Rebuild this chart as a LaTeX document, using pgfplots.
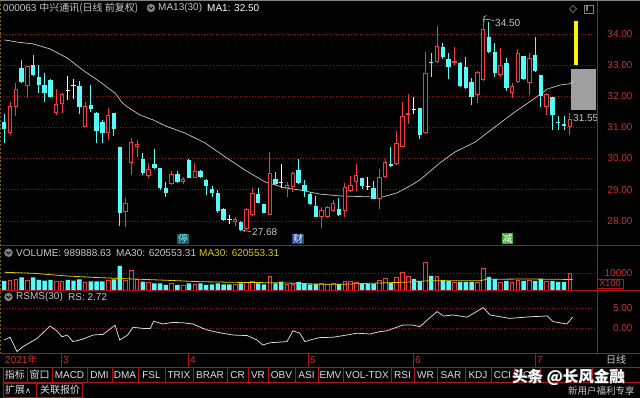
\documentclass[border=0pt]{standalone}
\usepackage{pgfplots}
\pgfplotsset{compat=1.18}
\usepackage{pgfplotstable}
\usetikzlibrary{arrows.meta}
\usepackage{fontspec}
\setmainfont{Liberation Sans}
\newfontfamily\cjk{Noto Sans CJK SC}
\newfontfamily\sym{DejaVu Sans}
\definecolor{upred}{RGB}{240,60,60}
\definecolor{dncyan}{RGB}{84,252,252}
\definecolor{gridred}{RGB}{165,20,20}
\definecolor{linered}{RGB}{175,20,20}
\definecolor{labred}{RGB}{205,45,45}
\definecolor{txtgray}{RGB}{200,200,200}
\definecolor{volyel}{RGB}{225,200,0}
\definecolor{olivel}{RGB}{120,100,20}
\definecolor{boxgray}{RGB}{160,160,160}
\definecolor{tingbg}{RGB}{20,95,105}
\definecolor{tingtx}{RGB}{150,240,240}
\definecolor{caibg}{RGB}{40,70,150}
\definecolor{jianbg}{RGB}{70,170,60}
\definecolor{btntx}{RGB}{225,225,225}

\pgfplotstableread{
x o h l c v
2 30.82 31.82 30.76 31.69 5882
3 31.66 32.43 31.37 32.23 6294
5 32.33 32.97 31.94 32.97 5882
10 31.46 32.23 31.40 31.75 4882
11 31.75 32.10 31.46 32.07 4882
15 31.01 31.82 31.01 31.69 4294
19 30.82 31.62 30.60 31.40 5470
22 28.29 28.73 27.80 28.57 5470
23 29.86 30.66 29.47 30.53 11764
24 30.37 30.60 30.05 30.47 6294
26 29.44 29.86 29.38 29.67 4294
30 29.18 29.60 29.15 29.50 3941
32 29.25 29.41 29.18 29.34 2941
34 29.38 29.86 29.38 29.60 3353
41 27.96 28.12 27.84 28.06 3353
43 27.74 28.41 27.71 28.38 4294
44 28.19 29.06 28.16 28.90 4882
47 28.19 30.21 28.19 29.54 7823
50 29.06 29.25 28.77 29.15 3353
51 29.09 29.57 28.93 29.54 3353
56 28.12 28.45 27.77 28.35 4117
57 28.12 28.48 28.09 28.45 3529
58 28.32 28.67 28.29 28.57 4117
60 28.32 29.22 28.12 29.09 5294
61 28.96 29.44 28.93 29.15 5294
62 29.25 29.83 28.96 29.47 4706
66 28.70 29.67 28.38 29.41 5882
67 29.41 29.99 29.38 29.89 7058
69 29.83 30.89 29.79 30.50 7647
70 30.37 31.82 30.37 31.37 10588
71 31.40 32.07 31.11 31.46 8235
74 30.82 33.42 30.79 32.75 16470
76 33.10 34.26 33.07 33.61 8235
79 33.07 33.58 33.00 33.13 4706
83 32.04 32.81 31.78 32.78 4706
84 32.52 34.50 32.49 34.16 12941
87 32.68 33.55 32.62 33.00 4706
89 32.10 32.43 31.94 32.33 4706
90 32.46 33.52 32.43 33.39 5882
92 32.43 33.39 32.04 33.23 5882
95 31.66 32.10 31.40 32.07 5294
99 31.01 31.46 30.76 31.27 9899
}\up

\pgfplotstableread{
x o h l c v
1 31.17 31.43 30.50 30.95 5294
4 32.91 33.16 32.43 32.46 7470
6 33.00 33.32 32.65 32.68 7470
7 32.62 33.00 32.10 32.36 5882
8 32.36 32.75 31.82 32.10 5470
9 32.52 32.55 31.94 31.98 5882
14 32.33 32.49 31.43 31.66 6294
16 31.72 32.36 31.50 31.59 5117
17 31.46 31.50 30.50 30.89 5117
18 31.17 31.24 30.50 30.82 5117
20 31.46 31.46 30.72 30.95 6294
21 30.37 30.37 27.84 28.25 14117
25 29.99 30.18 29.47 29.54 4882
27 29.83 30.31 29.67 29.70 3941
28 29.70 29.70 28.99 29.06 3941
29 29.06 29.25 28.77 28.90 2941
31 29.50 29.60 29.22 29.25 2941
33 29.95 29.99 29.38 29.38 3941
35 29.60 29.63 29.38 29.41 3941
36 29.31 29.34 28.83 29.12 2941
37 29.02 29.12 28.77 28.90 3353
38 28.90 28.99 28.25 28.32 3941
39 28.38 28.41 28.00 28.03 3353
42 27.96 28.00 27.68 27.71 3941
45 28.86 29.06 28.57 28.57 3941
46 28.54 28.54 28.25 28.25 3353
48 29.34 29.57 29.15 29.18 3941
52 29.63 29.99 29.18 29.22 4706
53 29.15 29.31 28.77 28.96 3529
54 28.86 28.93 28.51 28.54 3353
55 28.48 28.80 28.12 28.12 3529
59 28.38 28.73 28.16 28.19 3529
63 29.38 29.38 29.02 29.12 3529
65 29.06 29.28 28.70 28.70 3529
68 29.83 30.37 29.73 29.76 4117
73 31.62 31.62 30.63 30.76 5294
75 33.10 33.39 32.62 33.07 8235
77 33.58 33.71 33.20 33.26 5882
78 33.20 33.39 32.55 32.94 5294
80 33.07 33.10 32.30 32.33 4706
81 32.94 33.26 32.23 32.27 4706
82 32.46 32.59 31.72 31.98 4706
85 33.90 34.38 33.39 33.42 7647
86 33.42 33.71 32.62 32.75 6470
88 33.07 33.23 32.17 32.27 5294
91 33.29 33.29 32.52 32.55 5294
93 33.32 33.90 32.78 32.81 5294
94 32.68 32.68 31.66 32.01 6470
96 31.98 31.98 30.92 31.40 5294
97 31.17 31.37 30.92 31.14 4706
98 31.11 31.37 30.92 31.05 4706
}\down

\pgfplotstableread{
x o h l c v
12 32.20 32.65 31.88 32.20 5882
13 32.36 32.55 31.91 32.36 5470
40 28.03 28.19 27.90 28.03 3353
49 29.22 29.83 29.06 29.22 4882
64 29.09 29.41 28.99 29.09 3529
72 31.56 31.98 31.43 31.56 6470
}\doji

\pgfplotstableread{
n ma
1 33.81
3.2 33.74
6 33.68
8.9 33.52
11.9 33.23
14.6 32.84
17.6 32.46
20.2 32.10
21.4 31.80
22.3 31.66
24.5 31.40
26.8 31.24
28.9 31.05
32.3 30.82
35.8 30.50
39.3 30.05
42.7 29.63
46.2 29.25
49.6 29.06
52.2 28.99
55.7 28.86
59.2 28.80
64.4 28.77
66.6 28.77
69.1 28.90
71.3 29.12
73 29.31
76.5 29.86
79.1 30.21
82.6 30.53
86 31.01
89.5 31.50
93 31.94
95.1 32.23
97.3 32.36
99 32.40
99.8 32.50
}\matab

\pgfplotstableread{
n v
1 10411
6 9823
11.9 8235
17.6 7235
23.3 6470
29.2 5706
34.9 4882
40.6 4529
46.5 4294
52.2 3941
55.7 3353
59.2 3353
64.4 3941
70.1 4529
73 5117
74.8 5470
83.4 5470
84.7 6294
91.6 6470
99.5 6205
}\volma

\pgfplotstableread{
n v
1 -3.0
2 -2.3
3.2 -5.9
4.2 -4.7
5.5 -3.6
6.7 -2.6
7.7 -1.2
8.9 0.5
10.1 -0.7
11 -2.2
11.9 -1.75
12.9 -3.4
14.6 -2.8
16.4 -1.75
18.1 -1.6
19.3 -0.3
20.2 0.7
21 -3.0
22.4 -1.75
23.3 0.2
25 -0.1
26.3 -0.1
26.9 1.7
28.5 1.0
30.2 1.4
32 1.3
33.7 1.0
35.4 -0.1
36.7 -0.7
38.4 -1.2
40.6 -1.75
43.1 -1.9
44.8 -3.0
45.8 -4.25
47 -3.7
50 -3.4
51 -0.7
52.2 -1.3
53.1 -3.4
54.5 -2.8
55.7 -2.4
58 -2.3
60.4 -1.75
62.1 -1.3
64.4 -1.5
66.1 -0.9
67.3 -0.7
70.1 0.75
71.8 0.75
73 0.3
74.3 2.0
76 4.1
77.1 3.0
78.8 3.25
81.2 2.7
84 5.1
85.2 3.25
88.6 2.4
92.1 2.8
95.1 3.0
96.1 1.6
97.3 1.3
98.5 1.0
99.5 2.72
}\rstab

\pgfplotsset{
  panel/.style={scale only axis, width=597pt, xmin=0.255, xmax=103.72,
    axis line style={draw=none}, xtick=\empty, tick style={draw=none},
    scaled y ticks=false,
    ytick pos=right, yticklabel pos=right,
    yticklabel style={anchor=east, xshift=39pt, text=labred, font=\fontsize{10}{12}\selectfont},
    ymajorgrids, major grid style={gridred, line width=0.6pt, dash pattern=on 1pt off 2pt}},
  wick/.style={draw=none, mark=none, forget plot, error bars/.cd, y dir=plus, y explicit, error mark=none,
    error bar style={draw=#1, line width=1pt}},
  body/.style={draw=none, mark=none, forget plot, error bars/.cd, y dir=plus, y explicit, error mark=none,
    error bar style={draw=#1, line width=4.4pt}},
  inner/.style={draw=none, mark=none, forget plot, error bars/.cd, y dir=plus, y explicit, error mark=none,
    error bar style={draw=black, line width=2.4pt}},
}

\begin{document}
\begin{tikzpicture}[font=\fontsize{10}{12}\selectfont]
\useasboundingbox (0pt,0pt) rectangle (640pt,398pt);
\fill[black] (0pt,0pt) rectangle (640pt,398pt);

% ---------- main price panel ----------
\begin{axis}[panel, at={(0pt,153pt)}, anchor=south west, height=245pt,
  ymin=27.225, ymax=35.09, ytick={28,29,30,31,32,33,34},
  yticklabels={28.00,29.00,30.00,31.00,32.00,33.00,34.00}]
\addplot[txtgray, line width=0.7pt, forget plot] table[x=n, y=ma] {\matab};
% up candles (hollow red)
\addplot[wick=upred] table[x=x, y=l, y error expr={\thisrow{h}-\thisrow{l}}] {\up};
\addplot[body=upred] table[x=x, y=o, y error expr={\thisrow{c}-\thisrow{o}}] {\up};
\addplot[inner] table[x=x, y expr={\thisrow{o}+0.032}, y error expr={max(\thisrow{c}-\thisrow{o}-0.064,0)}] {\up};
% down candles (filled cyan)
\addplot[wick=dncyan] table[x=x, y=l, y error expr={\thisrow{h}-\thisrow{l}}] {\down};
\addplot[body=dncyan] table[x=x, y=c, y error expr={\thisrow{o}-\thisrow{c}}] {\down};
% doji
\addplot[wick=white] table[x=x, y=l, y error expr={\thisrow{h}-\thisrow{l}}] {\doji};
\addplot[body=white] table[x=x, y expr={\thisrow{o}-0.016}, y error expr={0.032}] {\doji};
% yellow bar and grey box at the right
\addplot[fill=boxgray, draw=none, forget plot] coordinates {(99.21,31.56) (103.55,31.56) (103.55,32.875) (99.21,32.875)} -- cycle;
\addplot[fill=yellow, draw=none, forget plot] coordinates {(99.73,33.0) (100.42,33.0) (100.42,34.42) (99.73,34.42)} -- cycle;
\addplot[txtgray, line width=0.6pt, forget plot] coordinates {(99.0,32.40) (99.8,32.50)};
\end{axis}

% ---------- volume panel ----------
\begin{axis}[panel, at={(0pt,108pt)}, anchor=south west, height=45pt,
  ymin=0, ymax=26470, ytick={10000}, yticklabels={10000}]
\addplot[ybar, bar width=3.6pt, bar shift=0pt, draw=upred, fill=black, line width=0.8pt] table[x=x, y=v] {\up};
\addplot[ybar, bar width=4.4pt, bar shift=0pt, draw=none, fill=dncyan] table[x=x, y=v] {\down};
\addplot[ybar, bar width=4.4pt, bar shift=0pt, draw=none, fill=dncyan] table[x=x, y=v] {\doji};
\addplot[volyel, line width=0.8pt] table[x=n, y=v] {\volma};
\end{axis}

% ---------- RSMS panel ----------
\begin{axis}[panel, at={(0pt,45pt)}, anchor=south west, height=63pt,
  ymin=-6.25, ymax=9.5, ytick={0,5}, yticklabels={0.00,5.00}]
\addplot[white!88!black, line width=0.75pt] table[x=n, y=v] {\rstab};
\end{axis}

\begin{scope}[x=1pt, y=1pt]
% last-price label, cut at the panel edge
\begin{scope}
\clip (0,153) rectangle (596.5,398);
\node[anchor=west, text=txtgray, inner sep=0] at (573,280) {31.55};
\end{scope}

% ---------- frame lines ----------
\draw[linered, line width=0.9pt] (0,153) -- (640,153);
\draw[linered, line width=0.9pt] (0,108) -- (640,108);
\draw[linered, line width=0.9pt] (0,45) -- (640,45);
\draw[linered, line width=0.9pt] (0,31) -- (640,31);
\draw[linered, line width=0.9pt] (597,398) -- (597,45);
\draw[gray, line width=0.8pt] (0,397.6) -- (640,397.6);
\draw[olivel, line width=0.8pt, dash pattern=on 2pt off 2pt] (0.5,398) -- (0.5,45);

% X100 box
\draw[linered, line width=0.8pt] (597,110) rectangle (623,119);
\node[text=labred, inner sep=0, font=\fontsize{9}{10}\selectfont] at (610,114.5) {X100};

% ---------- titles ----------
\node[anchor=west, text=txtgray, inner sep=0] at (3,390) {000063 {\cjk 中兴通讯(日线 前复权)}};
\fill[gray] (151,390) circle (4.3);
\draw[black, line width=0.8pt] (149,391) -- (151,389) -- (153,391);
\node[anchor=west, text=txtgray, inner sep=0] at (158,390) {MA13(30)};
\node[anchor=west, text=white, inner sep=0] at (207,390) {MA1: 32.50};
\draw[gray, line width=0.7pt] (573,385.5) -- (576.5,389) -- (573,392.5) -- (569.5,389) -- cycle;
\draw[gray, line width=0.7pt] (584.5,385) rectangle (593,393);
\fill[gray] (586,386.5) rectangle (588.3,391.5);

\fill[gray] (8.5,145.3) circle (4.3);
\draw[black, line width=0.8pt] (6.5,146.3) -- (8.5,144.3) -- (10.5,146.3);
\node[anchor=west, text=txtgray, inner sep=0] at (16,145.3) {VOLUME: 989888.63};
\node[anchor=west, text=txtgray, inner sep=0] at (116,145.3) {MA30: 620553.31};
\node[anchor=west, text=volyel, inner sep=0] at (199,145.3) {MA30: 620553.31};

\fill[gray] (8.5,101) circle (4.3);
\draw[black, line width=0.8pt] (6.5,102) -- (8.5,100) -- (10.5,102);
\node[anchor=west, text=txtgray, inner sep=0] at (16,101) {RSMS(30)};
\node[anchor=west, text=txtgray, inner sep=0] at (68,101) {RS: 2.72};

% ---------- annotations ----------
\draw[txtgray, line width=0.6pt, -{Stealth[length=2.5pt]}] (251,166.5) -- (242.5,167.5);
\node[anchor=west, text=txtgray, inner sep=0] at (252,166) {27.68};
\draw[txtgray, line width=0.6pt] (484,376) -- (484,381) -- (486.5,382.5);
\draw[txtgray, line width=0.6pt] (484,379) -- (494,377.5);
\node[anchor=west, text=txtgray, inner sep=0] at (495,375) {34.50};

\node[fill=tingbg, text=tingtx, inner sep=0.8pt, font=\cjk\fontsize{10}{11}\selectfont] at (183,159) {停};
\node[fill=caibg, text=white, inner sep=0.8pt, font=\cjk\fontsize{10}{11}\selectfont] at (298,159) {财};
\node[fill=jianbg, text=white, inner sep=0.8pt, font=\cjk\fontsize{10}{11}\selectfont] at (507.5,159.5) {减};

% ---------- date strip ----------
\foreach \xx in {61,188,308,413,535} {\draw[linered, line width=0.8pt] (\xx,45) -- (\xx,31);}
\node[anchor=west, text=labred, inner sep=0] at (5,38) {2021{\cjk 年}};
\node[anchor=west, text=labred, inner sep=0] at (63,38) {3};
\node[anchor=west, text=labred, inner sep=0] at (190,38) {4};
\node[anchor=west, text=labred, inner sep=0] at (310,38) {5};
\node[anchor=west, text=labred, inner sep=0] at (415,38) {6};
\node[anchor=west, text=labred, inner sep=0] at (537,38) {7};
\node[anchor=west, text=txtgray, inner sep=0, font=\cjk\fontsize{10}{12}\selectfont] at (606,38) {日线};

% ---------- button row ----------
\foreach \a/\b/\lab in {3/27/{\cjk 指标},27/52/{\cjk 窗口},52/87/MACD,87/112/DMI,112/138/DMA,138/165/FSL,165/193/TRIX,193/227/BRAR,227/248/CR,248/268/VR,268/295/OBV,295/318/ASI,318/343/EMV,343/391/VOL-TDX,391/414/RSI,414/437/WR,437/465/SAR,465/491/KDJ,491/514/CCI,514/540/ROC,540/566/{},566/592/{},592/616/{},616/640/{}} {
  \draw[linered, line width=0.7pt] (\a,15.5) rectangle (\b,30.5);
  \node[text=btntx, inner sep=0] at ({(\a+\b)/2},23) {\lab};
}
\draw[linered, line width=0.7pt] (3,0.5) rectangle (36,15);
\draw[linered, line width=0.7pt] (36,0.5) rectangle (82,15);
\node[anchor=west, text=btntx, inner sep=0, font=\cjk\fontsize{10}{12}\selectfont] at (5,8) {扩展{\sym\fontsize{8}{9}\selectfont ∧}};
\node[anchor=west, text=btntx, inner sep=0, font=\cjk\fontsize{10}{12}\selectfont] at (40,8) {关联报价};

% ---------- watermark ----------
\node[anchor=west, text=black!70, inner sep=0, font=\cjk\bfseries\fontsize{15.5}{17}\selectfont] at (512.8,20.3) {头条 @长风金融};
\node[anchor=west, text=white, inner sep=0, font=\cjk\bfseries\fontsize{15.5}{17}\selectfont] at (512,21) {头条 @长风金融};
\node[anchor=west, text=txtgray, inner sep=0, font=\cjk\fontsize{9.5}{11}\selectfont] at (568,7) {新用户福利专享};
\end{scope}
\end{tikzpicture}
\end{document}
